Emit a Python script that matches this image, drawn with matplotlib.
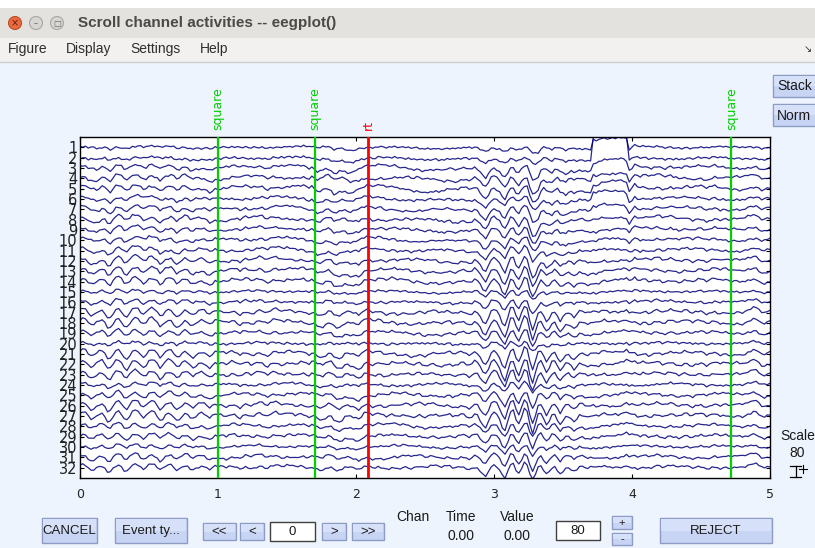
import numpy as np
import matplotlib.pyplot as plt
from matplotlib.patches import Rectangle, Circle

# eeg templates sampled every 0.02 s from 0 to 5 s (values in channel spacings)
t = np.arange(251) * 0.02

posterior = [
    0.10, 0.25, 0.20, -0.10, -0.35, -0.20, 0.10, 0.30, 0.25, -0.05,
    -0.40, -0.30, 0.05, 0.30, 0.35, 0.10, -0.30, -0.45, -0.10, 0.20,
    0.30, 0.15, -0.20, -0.35, -0.15, 0.15, 0.30, 0.20, -0.10, -0.40,
    -0.25, 0.10, 0.25, 0.20, -0.05, -0.30, -0.20, 0.05, 0.20, 0.15,
    -0.10, -0.25, -0.10, 0.10, 0.20, 0.10, -0.15, -0.25, -0.05, 0.10,
    0.05, 0.10, 0.00, -0.10, 0.05, 0.15, 0.10, -0.05, -0.15, 0.00,
    0.10, 0.05, -0.10, -0.05, 0.10, 0.15, 0.05, -0.10, -0.15, 0.00,
    0.10, 0.15, 0.00, -0.10, -0.05, 0.05, 0.10, 0.00, -0.10, 0.00,
    0.10, 0.05, -0.05, -0.10, 0.05, 0.10, 0.00, -0.15, -0.25, -0.10,
    0.10, 0.15, -0.05, -0.30, -0.45, -0.30, 0.00, 0.15, 0.10, -0.05,
    -0.20, -0.40, -0.20, 0.10, 0.15, 0.05, -0.05, 0.00, 0.10, 0.05,
    -0.05, -0.10, 0.00, 0.10, 0.05, -0.05, 0.00, 0.10, 0.10, 0.00,
    -0.10, -0.05, 0.05, 0.10, 0.00, -0.10, -0.05, 0.05, 0.10, 0.05,
    -0.05, -0.10, 0.00, 0.10, 0.05, -0.10, -0.05, 0.05, 0.15, 0.10,
    -0.05, -0.15, 0.00, 0.20, 0.15, -0.20, -0.55, -0.70, -0.30, 0.20,
    0.35, 0.20, -0.30, -0.90, -1.20, -0.50, 0.30, 0.40, -0.40, -0.80,
    -0.20, 0.50, 0.30, -0.80, -1.30, -0.40, 0.50, 0.40, -0.30, -0.80,
    -0.30, 0.30, 0.30, -0.30, -0.70, -0.20, 0.20, 0.15, -0.20, -0.45,
    -0.20, 0.10, 0.10, -0.05, -0.10, 0.00, 0.05, 0.00, -0.05, 0.05,
    0.10, 0.05, -0.05, 0.00, 0.05, 0.00, 0.10, 0.20, 0.45, 0.35,
    0.20, 0.00, -0.10, -0.05, 0.05, 0.00, -0.10, -0.05, 0.05, 0.10,
    0.00, -0.10, -0.05, 0.05, 0.10, 0.05, -0.05, -0.10, 0.00, 0.10,
    0.05, -0.05, -0.10, 0.00, 0.05, 0.10, 0.00, -0.10, -0.05, 0.05,
    0.10, 0.00, -0.05, 0.00, 0.05, 0.00, -0.10, -0.05, 0.05, 0.00,
    -0.05, 0.00, 0.10, 0.20, 0.35, 0.30, 0.10, -0.10, -0.15, -0.05,
    0.00]

frontal = [
    0.10, 0.05, 0.00, -0.05, 0.05, -0.10, -0.35, -0.40, -0.15, 0.00,
    -0.10, -0.30, -0.20, 0.00, 0.05, 0.10, 0.05, 0.15, 0.10, 0.20,
    0.20, 0.30, 0.35, 0.25, 0.15, 0.20, 0.10, 0.05, 0.10, 0.00,
    0.05, 0.00, -0.05, 0.05, 0.00, -0.10, -0.05, 0.00, 0.05, -0.05,
    -0.10, 0.00, 0.05, -0.05, -0.10, -0.05, 0.00, -0.10, -0.15, -0.05,
    -0.10, -0.15, -0.05, 0.00, -0.10, -0.05, 0.00, 0.05, 0.00, 0.05,
    0.10, 0.05, 0.10, 0.15, 0.10, 0.15, 0.20, 0.15, 0.10, 0.15,
    0.20, 0.15, 0.20, 0.25, 0.15, 0.20, 0.10, 0.15, 0.20, 0.10,
    0.05, 0.10, 0.00, -0.05, 0.00, -0.20, -0.35, -0.20, 0.00, 0.05,
    -0.05, -0.25, -0.40, -0.20, 0.05, 0.00, -0.20, -0.45, -0.50, -0.30,
    -0.10, 0.05, 0.10, 0.00, 0.05, 0.10, 0.05, 0.00, 0.05, 0.10,
    0.05, 0.00, -0.05, 0.00, 0.05, 0.00, -0.05, -0.10, -0.05, 0.00,
    -0.05, -0.10, -0.05, -0.10, -0.15, -0.10, -0.05, -0.10, -0.15, -0.10,
    -0.15, -0.10, -0.20, -0.15, -0.10, -0.15, -0.20, -0.25, -0.20, -0.15,
    -0.10, -0.15, -0.20, -0.15, -0.25, -0.35, -0.50, -0.60, -0.40, -0.20,
    -0.15, -0.20, -0.10, -0.15, -0.20, -0.10, -0.05, -0.15, -0.10, -0.05,
    0.00, -0.10, -0.05, -0.20, -0.60, -1.10, -1.30, -0.60, 0.00, 0.10,
    -0.30, -0.70, -0.40, 0.05, 0.00, -0.35, -0.65, -0.40, -0.10, -0.05,
    -0.10, -0.15, -0.20, -0.15, -0.20, -0.25, -0.20, -0.25, -0.10, -0.05,
    0.00, -0.05, 0.00, 0.05, 0.00, 0.05, 0.00, -0.10, -0.40, -0.60,
    -0.20, 0.30, 0.20, 0.05, 0.10, 0.15, 0.10, 0.05, 0.10, 0.15,
    0.20, 0.10, 0.05, 0.10, 0.15, 0.05, 0.10, 0.05, 0.00, 0.05,
    0.10, 0.05, 0.00, 0.05, 0.10, 0.05, 0.00, -0.05, 0.00, 0.05,
    0.10, 0.05, 0.00, 0.05, 0.00, -0.05, 0.00, 0.05, 0.00, -0.05,
    0.00, 0.05, 0.10, 0.05, 0.00, 0.05, 0.00, -0.05, 0.00, 0.05,
    0.05]

slow = [
    0.00, 0.03, 0.06, 0.10, 0.13, 0.15, 0.16, 0.15, 0.12, 0.08,
    0.04, 0.00, -0.04, -0.08, -0.12, -0.15, -0.17, -0.18, -0.17, -0.15,
    -0.12, -0.08, -0.04, 0.00, 0.04, 0.08, 0.12, 0.16, 0.19, 0.21,
    0.22, 0.22, 0.20, 0.17, 0.13, 0.08, 0.03, -0.02, -0.07, -0.11,
    -0.14, -0.16, -0.17, -0.16, -0.14, -0.11, -0.07, -0.03, 0.01, 0.05,
    0.08, 0.11, 0.13, 0.14, 0.14, 0.13, 0.11, 0.08, 0.05, 0.02,
    -0.01, -0.04, -0.07, -0.10, -0.13, -0.16, -0.18, -0.20, -0.21, -0.21,
    -0.20, -0.18, -0.15, -0.12, -0.08, -0.04, 0.00, 0.04, 0.08, 0.12,
    0.16, 0.20, 0.24, 0.27, 0.29, 0.30, 0.30, 0.28, 0.25, 0.21,
    0.16, 0.11, 0.05, 0.00, -0.05, -0.10, -0.14, -0.17, -0.19, -0.20,
    -0.20, -0.19, -0.17, -0.14, -0.11, -0.08, -0.05, -0.02, 0.01, 0.04,
    0.06, 0.08, 0.10, 0.11, 0.12, 0.12, 0.11, 0.10, 0.08, 0.06,
    0.03, 0.00, -0.03, -0.06, -0.09, -0.12, -0.14, -0.16, -0.17, -0.17,
    -0.16, -0.14, -0.11, -0.08, -0.04, 0.00, 0.04, 0.08, 0.11, 0.14,
    0.16, 0.17, 0.17, 0.16, 0.14, 0.11, 0.08, 0.04, 0.00, -0.04,
    -0.08, -0.12, -0.15, -0.18, -0.20, -0.21, -0.21, -0.20, -0.18, -0.15,
    -0.12, -0.08, -0.04, 0.00, 0.04, 0.08, 0.11, 0.14, 0.16, 0.17,
    0.18, 0.18, 0.17, 0.15, 0.12, 0.09, 0.06, 0.03, 0.00, -0.03,
    -0.06, -0.09, -0.11, -0.13, -0.14, -0.15, -0.15, -0.14, -0.13, -0.11,
    -0.09, -0.06, -0.03, 0.00, 0.03, 0.06, 0.09, 0.12, 0.14, 0.16,
    0.17, 0.18, 0.18, 0.17, 0.16, 0.14, 0.12, 0.09, 0.06, 0.03,
    0.00, -0.03, -0.06, -0.09, -0.12, -0.14, -0.16, -0.17, -0.18, -0.18,
    -0.17, -0.15, -0.13, -0.10, -0.07, -0.04, -0.01, 0.02, 0.05, 0.08,
    0.10, 0.12, 0.14, 0.15, 0.15, 0.15, 0.14, 0.12, 0.10, 0.08,
    0.05, 0.02, -0.01, -0.04, -0.06, -0.08, -0.09, -0.10, -0.10, -0.09,
    -0.08]

jitter = [
    0.06, -0.04, 0.08, -0.06, 0.02, 0.07, -0.05, 0.04, -0.08, 0.03,
    0.05, -0.07, 0.01, 0.08, -0.03, -0.06, 0.05, 0.02, -0.04, 0.07,
    -0.05, 0.03, 0.06, -0.08, 0.04, -0.02, 0.07, -0.06, 0.01, 0.05,
    -0.07, 0.04, 0.02, -0.05, 0.08, -0.03, -0.06, 0.06, 0.00, -0.04,
    0.07, -0.05, 0.03, 0.05, -0.08, 0.02, 0.06, -0.04, -0.02, 0.08,
    -0.06, 0.01, 0.07, -0.03, -0.05, 0.06, -0.07, 0.04, 0.03, -0.06,
    0.05, -0.02, -0.06, 0.08, 0.00, -0.05, 0.07, -0.04, 0.02, 0.06,
    -0.08, 0.04, 0.01, -0.06, 0.07, -0.02, 0.05, -0.07, 0.03, 0.04,
    -0.05, 0.08, -0.03, 0.02, -0.07, 0.06, 0.01, -0.04, 0.07, -0.06,
    0.03, 0.05, -0.08, 0.04, -0.01, 0.06, -0.05, 0.02, 0.08, -0.04,
    -0.06, 0.07, 0.00, -0.05, 0.04, 0.03, -0.07, 0.06, -0.02, 0.05,
    0.02, -0.08, 0.06, -0.03, 0.05, -0.06, 0.01, 0.07, -0.04, 0.03,
    -0.05, 0.04, 0.08, -0.07, 0.02, -0.03, 0.06, -0.05, 0.04, 0.01,
    0.07, -0.06, 0.03, 0.05, -0.08, 0.04, -0.02, 0.06, -0.05, 0.02,
    -0.04, 0.08, -0.06, 0.01, 0.05, -0.07, 0.04, 0.03, -0.05, 0.06,
    0.00, -0.06, 0.07, -0.03, 0.04, -0.08, 0.05, 0.02, -0.04, 0.07,
    -0.07, 0.03, 0.05, -0.02, -0.06, 0.08, -0.04, 0.01, 0.06, -0.05,
    0.04, -0.03, 0.07, -0.08, 0.02, 0.05, -0.06, 0.04, -0.01, 0.06,
    -0.05, 0.02, -0.07, 0.06, 0.03, -0.04, 0.08, -0.06, 0.01, 0.05,
    0.07, -0.05, 0.00, 0.04, -0.07, 0.06, -0.03, 0.02, 0.05, -0.08,
    0.03, 0.06, -0.04, -0.02, 0.07, -0.06, 0.04, 0.01, -0.05, 0.08,
    -0.03, 0.05, -0.07, 0.02, 0.06, -0.04, 0.00, 0.07, -0.06, 0.03,
    0.05, -0.08, 0.04, 0.01, -0.05, 0.07, -0.02, 0.06, -0.04, 0.02,
    -0.06, 0.03, 0.08, -0.05, 0.04, -0.01, -0.07, 0.05, 0.02, -0.03,
    0.06, -0.04, 0.01, 0.07, -0.06, 0.03, 0.05, -0.08, 0.04, 0.00,
    0.02]

# per channel mix of the templates (channels 1..32)
w_front = [0.5, 0.5, 1.0, 1.0, 1.1, 0.8, 1.0, 1.0, 0.9, 0.8,
           0.6, 0.8, 0.8, 0.7, 0.4, 0.5, 0.5, 0.5, 0.5, 0.3,
           0.4, 0.4, 0.4, 0.3, 0.4, 0.4, 0.4, 0.3, 0.3, 0.3,
           0.3, 0.3]
w_post = [0.15, 0.2, 0.5, 0.6, 0.6, 0.4, 0.6, 0.7, 0.6, 0.5,
          0.6, 0.9, 0.9, 0.9, 0.4, 0.6, 1.1, 1.1, 0.8, 0.4,
          1.1, 1.2, 1.0, 0.5, 0.8, 1.1, 1.2, 0.7, 0.8, 0.5,
          0.8, 0.8]
w_slow = [0.5, -0.6, 0.8, 1.0, -1.0, 0.6, -0.7, 0.9, -0.5, 0.7,
          -0.8, 0.6, -0.9, 0.8, -0.4, 0.5, -0.7, 0.8, -0.6, 0.4,
          -0.8, 0.7, -0.5, 0.6, -0.9, 0.7, -0.6, 0.8, -0.7, 0.5,
          -0.8, 0.6]
w_jit = [1.0, 1.2, 1.0, 0.9, 1.0, 1.1, 0.9, 1.0, 1.0, 1.0,
         1.1, 0.9, 1.0, 1.0, 1.0, 1.1, 0.9, 1.0, 1.0, 1.2,
         0.9, 1.0, 1.0, 1.1, 1.0, 0.9, 1.0, 1.0, 1.1, 1.0,
         0.9, 1.0]
jit_shift = [0, 7, 13, 21, 3, 29, 11, 17, 5, 23,
             9, 31, 2, 15, 27, 8, 19, 4, 25, 12,
             33, 6, 18, 28, 1, 14, 22, 10, 30, 16,
             26, 20]
slow_shift = [0, 12, 25, 6, 40, 18, 33, 9, 47, 21,
              3, 37, 14, 28, 44, 7, 30, 19, 42, 11,
              35, 2, 24, 46, 16, 39, 5, 27, 13, 32,
              22, 45]

# dc jump on the frontal channels
art_on, art_off = 3.72, 3.97
art_amp = [0.9, 2.3, 0.7, 0.5, 0.5, 0.7, 0.3, 0.2] + [0.0] * 24

# events
ev_time = [1.0, 1.7, 2.09, 4.72]
ev_type = ['square', 'square', 'rt', 'square']
ev_color = {'square': '#00d000', 'rt': '#ff0000'}

nchan = 32
chan_labels = [str(i + 1) for i in range(nchan)]
xticks = [0, 1, 2, 3, 4, 5]

W, H = 815, 548
fig = plt.figure(figsize=(W / 100, H / 100), dpi=100)
fig.patch.set_facecolor('#edf4fd')

bg = fig.add_axes([0, 0, 1, 1])
bg.set_xlim(0, W)
bg.set_ylim(H, 0)
bg.axis('off')

ui = 'Liberation Sans'


def box(x0, y0, x1, y1, fc, ec, lw=1, z=1):
    bg.add_patch(Rectangle((x0, y0), x1 - x0, y1 - y0, facecolor=fc,
                           edgecolor=ec, lw=lw, zorder=z))


def button(x0, y0, x1, y1, label, size=9.5, left=None):
    box(x0, y0, x1, y1, '#c7d4f4', '#8d9cc4')
    box(x0 + 1, y0 + 1, x1 - 1, (y0 + y1) / 2, '#d6e0f8', 'none', lw=0, z=1.5)
    if left is None:
        bg.text((x0 + x1) / 2, (y0 + y1) / 2 + 0.5, label, ha='center', va='center',
                fontsize=size, family=ui, color='#1a1a1a', zorder=3)
    else:
        bg.text(left, (y0 + y1) / 2 + 0.5, label, ha='left', va='center',
                fontsize=size, family=ui, color='#1a1a1a', zorder=3)


def editbox(x0, y0, x1, y1, label):
    box(x0, y0, x1, y1, 'white', '#404040')
    bg.text((x0 + x1) / 2, (y0 + y1) / 2 + 0.5, label, ha='center', va='center',
            fontsize=9.5, family=ui, color='#1a1a1a', zorder=3)


# window title bar and menu
box(0, 0, W, 8, 'white', 'none', lw=0)
box(0, 8, W, 38, '#e4e2de', 'none', lw=0)
box(0, 38, W, 61, '#f2f1f0', 'none', lw=0)
bg.plot([0, W], [61.5, 61.5], color='#d0cec9', lw=1)
bg.add_patch(Circle((15, 23), 6.5, facecolor='#ec6a3d', edgecolor='#b9502c', lw=0.8, zorder=2))
bg.text(15, 23.5, '×', ha='center', va='center', fontsize=7, color='#5a2010', zorder=3)
for cx, g in [(36, '–'), (57, '□')]:
    bg.add_patch(Circle((cx, 23), 6.5, facecolor='#d8d6d2', edgecolor='#a9a7a3', lw=0.8, zorder=2))
    bg.text(cx, 23.5, g, ha='center', va='center', fontsize=6, color='#6a6a6a', zorder=3)
bg.text(78, 23.5, 'Scroll channel activities -- eegplot()', ha='left', va='center',
        fontsize=11, fontweight='bold', family=ui, color='#4a4a48')
for mx, m in [(8, 'Figure'), (66, 'Display'), (130, 'Settings'), (200, 'Help')]:
    bg.text(mx, 49.5, m, ha='left', va='center', fontsize=10, family=ui, color='#2e2e2e')
bg.text(808, 49, '↘', ha='center', va='center', fontsize=7, color='#333333')

# side buttons
button(773, 75, 818, 97, 'Stack', 10, left=777)
button(773, 104, 818, 126, 'Norm', 10, left=777)

# scale indicator
bg.text(798, 436, 'Scale', ha='center', va='center', fontsize=10, family=ui, color='#1a1a1a')
bg.text(797, 453, '80', ha='center', va='center', fontsize=10, family=ui, color='#1a1a1a')
bg.plot([790, 801], [477, 477], color='black', lw=0.9)
bg.plot([795.5, 795.5], [466, 477], color='black', lw=0.9)
bg.plot([790, 801], [466, 466], color='black', lw=0.9)
bg.plot([799, 807], [469, 469], color='black', lw=0.8)
bg.plot([803, 803], [465, 473], color='black', lw=0.8)

# bottom controls
button(42, 518, 97, 543, 'CANCEL')
button(115, 518, 187, 543, 'Event ty...')
button(203, 523, 236, 540, '<<')
button(240, 523, 264, 540, '<')
editbox(270, 522, 315, 541, '0')
button(322, 523, 346, 540, '>')
button(352, 523, 384, 540, '>>')
for lx, lab in [(413, 'Chan'), (461, 'Time'), (517, 'Value')]:
    bg.text(lx, 517, lab, ha='center', va='center', fontsize=10, family=ui, color='#1a1a1a')
bg.text(461, 536, '0.00', ha='center', va='center', fontsize=10, family=ui, color='#1a1a1a')
bg.text(517, 536, '0.00', ha='center', va='center', fontsize=10, family=ui, color='#1a1a1a')
editbox(556, 521, 600, 540, '80')
button(612, 516, 632, 529, '+', 8)
button(612, 533, 632, 545, '-', 8)
button(660, 518, 772, 543, 'REJECT')

# eeg axes
ax = fig.add_axes([80 / W, 1 - 478 / H, 690 / W, 341 / H])
ax.set_facecolor('white')
P = np.array(posterior)
F = np.array(frontal)
S = np.array(slow)
J = np.array(jitter)
art = ((t >= art_on) & (t < art_off)).astype(float)
for i in range(nchan):
    trace = (w_front[i] * F + w_post[i] * P + w_slow[i] * np.roll(S, slow_shift[i])
             + w_jit[i] * np.roll(J, jit_shift[i]) + art_amp[i] * art)
    trace = trace - trace.mean()
    ax.plot(t, trace + (nchan - i), color='#00007a', lw=0.9, alpha=0.85)

for et, ty in zip(ev_time, ev_type):
    ax.axvline(et, color=ev_color[ty], lw=2 if ty == 'rt' else 1.6, zorder=3)
    ax.text(et, nchan + 1.7, ty, rotation=90, ha='center', va='bottom',
            color=ev_color[ty], fontsize=9, clip_on=False)

ax.set_xlim(0, 5)
ax.set_ylim(0, nchan + 1)
ax.set_xticks(xticks)
ax.set_xticklabels([str(x) for x in xticks], fontsize=9)
ax.set_yticks([nchan - i for i in range(nchan)])
ax.set_yticklabels(chan_labels, fontsize=10.5)
ax.tick_params(direction='in', top=True, right=True, length=3, width=0.8,
               labelcolor='#222222')
ax.tick_params(axis='x', pad=7)
ax.tick_params(axis='y', pad=2)
for s in ax.spines.values():
    s.set_linewidth(1)

fig.savefig('out.png', dpi=100, facecolor=fig.get_facecolor())
